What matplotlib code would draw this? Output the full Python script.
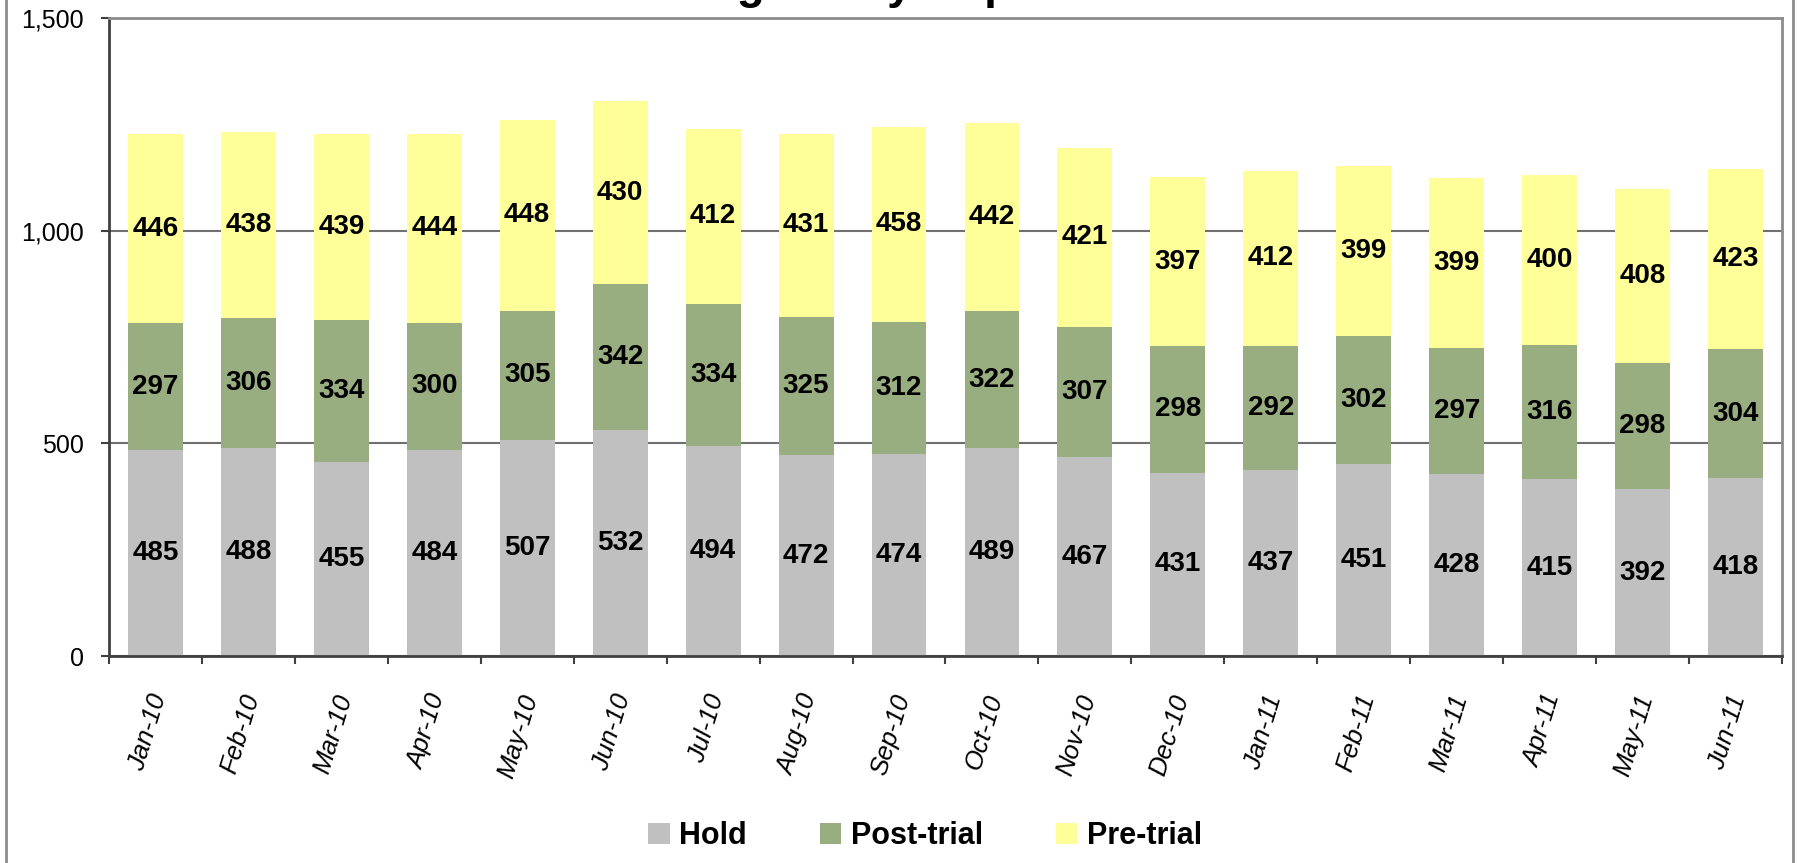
import numpy as np
import matplotlib
matplotlib.use("Agg")
import matplotlib.pyplot as plt
from matplotlib.lines import Line2D
from matplotlib.ticker import FuncFormatter

months = ["Jan-10", "Feb-10", "Mar-10", "Apr-10", "May-10", "Jun-10",
          "Jul-10", "Aug-10", "Sep-10", "Oct-10", "Nov-10", "Dec-10",
          "Jan-11", "Feb-11", "Mar-11", "Apr-11", "May-11", "Jun-11"]
hold = [485, 488, 455, 484, 507, 532, 494, 472, 474, 489, 467, 431,
        437, 451, 428, 415, 392, 418]
post_trial = [297, 306, 334, 300, 305, 342, 334, 325, 312, 322, 307, 298,
              292, 302, 297, 316, 298, 304]
pre_trial = [446, 438, 439, 444, 448, 430, 412, 431, 458, 442, 421, 397,
             412, 399, 399, 400, 408, 423]

series = [("Hold", hold, "#c0c0c0"),
          ("Post-trial", post_trial, "#99ae80"),
          ("Pre-trial", pre_trial, "#ffff99")]

plt.rcParams["font.family"] = ["Liberation Sans", "DejaVu Sans"]

W, H = 1799, 863
fig = plt.figure(figsize=(W / 100, H / 100), dpi=100)
ax = fig.add_axes([109 / W, 1 - 656 / H, (1782 - 109) / W, (656 - 18) / H])

x = np.arange(len(months))
bottom = np.zeros(len(months))
for name, vals, col in series:
    vals = np.array(vals)
    ax.bar(x, vals, width=0.59, bottom=bottom, color=col, label=name,
           linewidth=0, zorder=2)
    for xi, b, v in zip(x, bottom, vals):
        ax.text(xi, b + v / 2, str(v), ha="center", va="center",
                fontsize=20, fontweight="bold", zorder=3)
    bottom += vals

ax.set_xlim(-0.5, len(months) - 0.5)
ax.set_ylim(0, 1500)
ax.set_yticks([0, 500, 1000, 1500])
ax.yaxis.set_major_formatter(FuncFormatter(lambda v, p: f"{int(v):,}"))
ax.tick_params(axis="y", direction="out", length=6, width=1.5,
               color="#404040", labelsize=18, pad=12)

# labels at bar centres, tick marks at category edges
ax.set_xticks(x + 0.04)
ax.set_xticklabels(months, rotation=73, fontsize=18.5, style="italic",
                   ha="right", va="center", rotation_mode="anchor")
ax.set_xticks(np.arange(len(months) + 1) - 0.5, minor=True)
ax.tick_params(axis="x", which="major", length=0, pad=28)
ax.tick_params(axis="x", which="minor", direction="out", length=6,
               width=1.5, color="#404040")

ax.grid(axis="y", color="#707070", linewidth=1.5)
ax.set_axisbelow(True)

for side in ["left", "bottom"]:
    ax.spines[side].set_color("#404040")
    ax.spines[side].set_linewidth(2)
for side in ["top", "right"]:
    ax.spines[side].set_color("#8c8c8c")
    ax.spines[side].set_linewidth(2)

ax.legend(loc="center", bbox_to_anchor=(925 / W, 1 - 836 / H),
          bbox_transform=fig.transFigure, ncol=3, frameon=False,
          prop={"size": 22, "weight": "bold"}, handlelength=0.7,
          handleheight=0.7, handletextpad=0.3, columnspacing=2.4)

# title sits mostly above the canvas, as in the original export
fig.text(887 / W, 1 + 2 / H, "Average Daily Population", ha="center",
         va="baseline", fontsize=33, fontweight="bold")

# outer chart frame
for px in [6, 1793]:
    fig.add_artist(Line2D([px / W, px / W], [0, 1], color="#8c8c8c",
                          linewidth=2, transform=fig.transFigure))

fig.savefig("out.png", dpi=100)
